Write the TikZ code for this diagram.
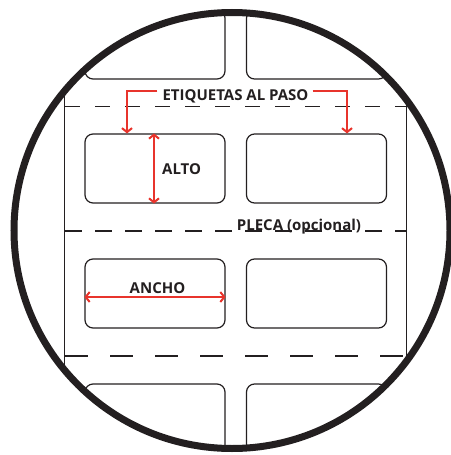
\documentclass[tikz,border=0pt]{standalone}
\usepackage{fontspec}
\setmainfont{Open Sans}
\usetikzlibrary{
  arrows.meta,
  positioning
}
\definecolor{tinta}{RGB}{35,31,32}
\definecolor{rojo}{RGB}{232,52,44}
\tikzset{
  etiqueta/.style={
    draw=tinta, line width=1.2pt, rounded corners=8pt,
    minimum width=140pt, minimum height=69pt, inner sep=0pt
  },
  pleca/.style={tinta, line width=1.3pt},
  flecha/.style={
    rojo, line width=2pt, -{Straight Barb[length=4pt,width=10pt]}
  },
  cota/.style={
    rojo, line width=2pt,
    {Straight Barb[length=4pt,width=10pt]}-{Straight Barb[length=4pt,width=10pt]}
  },
  rotulo/.style={
    font=\fontsize{15}{17}\selectfont\bfseries, text=tinta, inner sep=0pt
  }
}

\begin{document}
\begin{tikzpicture}[x=1pt,y=-1pt]
\useasboundingbox (0,0) rectangle (450,455);
\begin{scope}
\clip (232,230.5) circle (218pt);
% bordes del rollo
\draw[tinta, line width=1.2pt] (64.5,0) -- (64.5,455) (406.5,0) -- (406.5,455);
% plecas
\draw[pleca, dash pattern=on 15pt off 15pt] (65,106.5) -- (406,106.5);
\draw[pleca, dash pattern=on 16.5pt off 13.5pt] (65,231) -- (406,231);
\draw[pleca, dash pattern=on 23pt off 22pt] (65,356) -- (406,356);
% etiquetas
\node[etiqueta] (e11) at (155,44.5) {};
\node[etiqueta] (e12) at (316.5,44.5) {};
\node[etiqueta] (e21) at (155,168.5) {};
\node[etiqueta] (e22) at (316.5,168.5) {};
\node[etiqueta] (e31) at (155,293.5) {};
\node[etiqueta] (e32) at (316.5,293.5) {};
\node[etiqueta] (e41) at (155,418.5) {};
\node[etiqueta] (e42) at (316.5,418.5) {};
\end{scope}
\draw[tinta, line width=7pt] (232,230.5) circle (218pt);

\node[rotulo, anchor=base] (paso) at (235.5,100.5) {ETIQUETAS AL PASO};
\draw[flecha] ([xshift=-5pt,yshift=9.5pt]paso.base west) -| ([xshift=-28pt]e21.north);
\draw[flecha] ([xshift=4pt,yshift=9.5pt]paso.base east) -| ([xshift=30.5pt]e22.north);

\draw[cota] ([xshift=-1pt]e21.north) -- ([xshift=-1pt]e21.south);
\node[rotulo, anchor=base west] (alto) at ([xshift=7pt,yshift=-6pt]e21.center) {ALTO};

\draw[cota] ([yshift=-3.5pt]e31.west) -- ([yshift=-3.5pt]e31.east);
\node[rotulo, anchor=base] (ancho) at ([xshift=2.5pt]e31.center) {ANCHO};

\node[rotulo, anchor=base] (plecatxt) at (299,230) {PLECA (opcional)};
\end{tikzpicture}
\end{document}
